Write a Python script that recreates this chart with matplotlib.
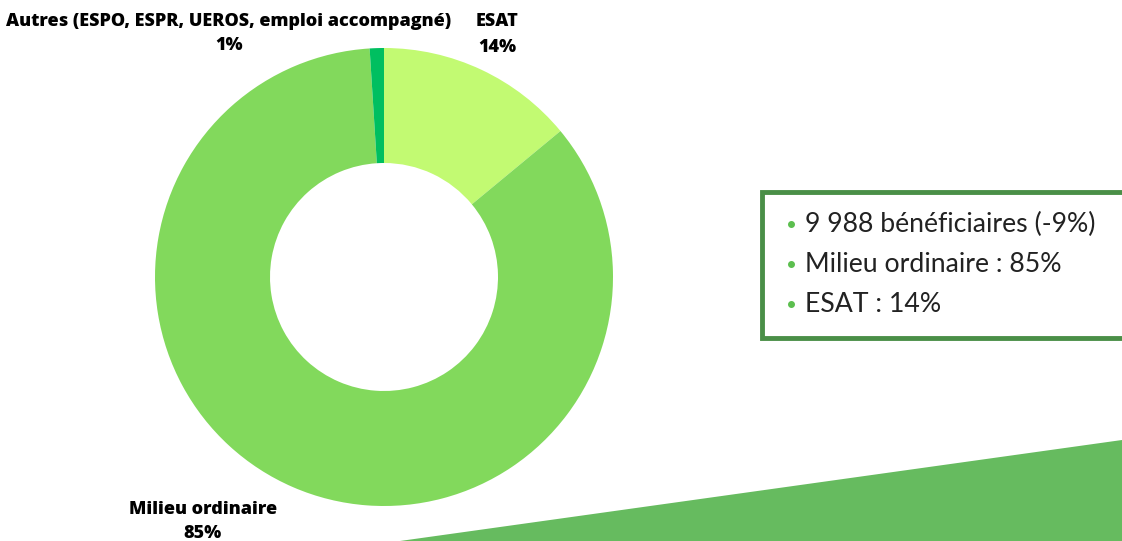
import numpy as np
import matplotlib.pyplot as plt
from matplotlib.patches import Rectangle, Polygon

# Répartition des bénéficiaires par type d'emploi
labels = ['ESAT', 'Milieu ordinaire', 'Autres (ESPO, ESPR, UEROS, emploi accompagné)']
values = [14, 85, 1]
colors = ['#C2FA72', '#82D95C', '#00BF60']

summary = ['9 988 bénéficiaires (-9%)', 'Milieu ordinaire : 85%', 'ESAT : 14%']

W, H = 1122, 541
fig = plt.figure(figsize=(W / 100, H / 100), dpi=100)
ax = fig.add_axes([0, 0, 1, 1])

# bandeau vert en bas à droite
ax.add_patch(Polygon([[400, 0], [W, 101], [W, 0]], closed=True,
                     facecolor='#66BB5F', edgecolor='none', zorder=0))

wedges, _ = ax.pie(values, colors=colors, startangle=90, counterclock=False,
                   center=(384, H - 277), radius=229, frame=True,
                   wedgeprops=dict(width=115, edgecolor='none'))

ax.set_xlim(0, W)
ax.set_ylim(0, H)
ax.set_aspect('equal')
ax.axis('off')

lab_font = dict(family='Open Sans', fontweight='heavy', fontsize=13,
                ha='center', va='center', color='black')
ax.text(229, H - 22, labels[2], **lab_font)
ax.text(229, H - 46, f'{values[2]}%', **lab_font)
ax.text(497, H - 22, labels[0], **lab_font)
ax.text(497, H - 47, f'{values[0]}%', **lab_font)
ax.text(203, H - 509, labels[1], **lab_font)
ax.text(203, H - 533, f'{values[1]}%', **lab_font)

# encadré récapitulatif
ax.add_patch(Rectangle((762, H - 338), 400, 146, facecolor='white',
                       edgecolor='#4A8F47', linewidth=3.5, zorder=3))
for i, line in enumerate(summary):
    y = H - 224 - i * 40
    ax.plot(791, y, 'o', color='#5CBF4F', markersize=4, zorder=4)
    ax.text(805, y, line, family='Lato', fontsize=19.2, color='#222222',
            ha='left', va='center', zorder=4)

fig.savefig('out.png', dpi=100)
